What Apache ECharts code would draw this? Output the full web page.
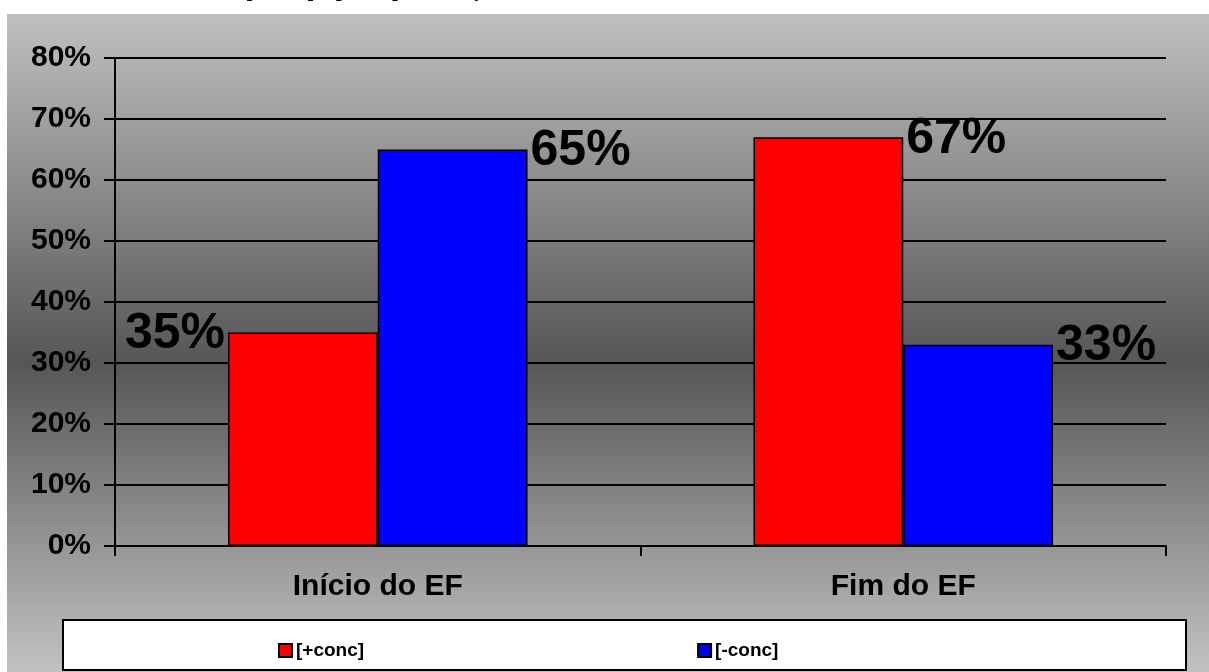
<!DOCTYPE html>
<html>
<head>
<meta charset="utf-8">
<script src="https://cdn.jsdelivr.net/npm/echarts@6/dist/echarts.min.js"></script>
<style>
  html, body { margin: 0; padding: 0; background: #ffffff; }
  #chart { width: 1209px; height: 672px; }
</style>
</head>
<body>
<div id="chart"></div>
<script>
// Chart data
const categories = ['Início do EF', 'Fim do EF'];
const seriesNames = ['[+conc]', '[-conc]'];
const plusConc = [35, 67];
const minusConc = [65, 33];
const yTicks = { min: 0, max: 80, interval: 10 };
const titleText = '[+conc] e [-conc] na redação';

const FONT = 'Arial, "Liberation Sans", sans-serif';

// Value label placement per bar: left of the bar top, or right of it
function labelFor(side) {
  const base = {
    show: true,
    formatter: '{c}%',
    fontFamily: FONT,
    fontWeight: 'bold',
    fontSize: 50,
    color: '#000',
    verticalAlign: 'middle'
  };
  if (side === 'left') {
    return Object.assign(base, { position: [0, 0], align: 'right', offset: [-3, 2] });
  }
  return Object.assign(base, { position: ['100%', 0], align: 'left', offset: [3, 2] });
}

const plusSides = ['left', 'right'];
const minusSides = ['right', 'right'];

const chart = echarts.init(document.getElementById('chart'), null, { renderer: 'canvas' });

chart.setOption({
  backgroundColor: '#ffffff',
  animation: false,
  graphic: [
    {
      type: 'rect', z: -10, silent: true,
      shape: { x: 7, y: 14, width: 1202, height: 658 },
      style: {
        fill: new echarts.graphic.LinearGradient(0, 0, 0, 1, [
          { offset: 0, color: '#c0c0c0' },
          { offset: 0.53, color: '#565656' },
          { offset: 1, color: '#c2c2c2' }
        ])
      }
    },
    {
      type: 'rect', z: -5, silent: true,
      shape: { x: 63, y: 620, width: 1123, height: 50 },
      style: { fill: '#ffffff', stroke: '#000000', lineWidth: 2 }
    },
    {
      // chart title, running off the top edge of the page
      type: 'text', silent: true, x: 246, y: -18,
      style: { text: titleText, font: 'bold 19px ' + FONT, fill: '#000', verticalAlign: 'top' }
    }
  ],
  grid: { left: 115, right: 43, top: 58, bottom: 126, containLabel: false },
  legend: {
    left: 273,
    top: 636,
    itemGap: 333,
    itemWidth: 13,
    itemHeight: 13,
    icon: 'rect',
    textStyle: { fontFamily: FONT, fontWeight: 'bold', fontSize: 19, color: '#000', padding: [0, 0, 0, -1] },
    data: seriesNames
  },
  xAxis: {
    type: 'category',
    data: categories,
    axisLine: { show: true, lineStyle: { color: '#000', width: 2 } },
    axisTick: { show: true, length: 10, lineStyle: { color: '#000', width: 2 } },
    axisLabel: { fontFamily: FONT, fontWeight: 'bold', fontSize: 30, color: '#000', margin: 26 },
    splitLine: { show: false }
  },
  yAxis: {
    type: 'value',
    min: yTicks.min,
    max: yTicks.max,
    interval: yTicks.interval,
    axisLine: { show: true, lineStyle: { color: '#000', width: 2 } },
    axisTick: { show: true, inside: false, length: 11, lineStyle: { color: '#000', width: 2 } },
    axisLabel: { formatter: '{value}%', fontFamily: FONT, fontWeight: 'bold', fontSize: 30, color: '#000', margin: 24 },
    splitLine: { show: true, lineStyle: { color: '#000', width: 2 } }
  },
  series: [
    {
      name: seriesNames[0],
      type: 'bar',
      barGap: '0%',
      barCategoryGap: '43%',
      itemStyle: { color: '#ff0000', borderColor: '#000', borderWidth: 1.5 },
      data: plusConc.map((v, i) => ({ value: v, label: labelFor(plusSides[i]) }))
    },
    {
      name: seriesNames[1],
      type: 'bar',
      barGap: '0%',
      barCategoryGap: '43%',
      itemStyle: { color: '#0000ff', borderColor: '#000', borderWidth: 1.5 },
      data: minusConc.map((v, i) => ({ value: v, label: labelFor(minusSides[i]) }))
    }
  ]
});
</script>
</body>
</html>
